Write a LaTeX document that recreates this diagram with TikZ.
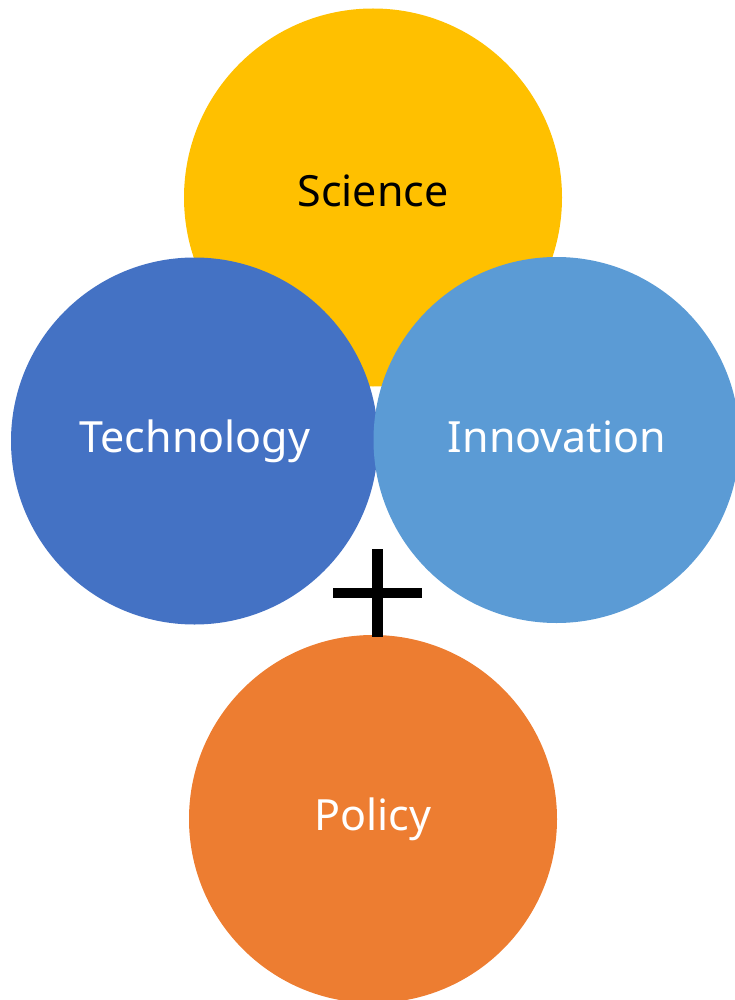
\documentclass[tikz,border=0pt]{standalone}
\usepackage{fontspec}
\setmainfont{Noto Sans}
\definecolor{sciY}{HTML}{FFC000}
\definecolor{techB}{HTML}{4472C4}
\definecolor{innoB}{HTML}{5B9BD5}
\definecolor{polO}{HTML}{ED7D31}
\tikzset{
  disc/.style={circle, inner sep=0pt, draw=none},
  lbl/.style={anchor=base, inner sep=0pt, font=\fontsize{43}{50}\selectfont},
  plusbar/.style={line width=10.5pt, draw=black}
}
\begin{document}
\begin{tikzpicture}[x=1pt,y=-1pt]
\useasboundingbox (0,0) rectangle (734,1000);
\node[disc, fill=sciY, minimum size=378pt] (sci) at (373,197.5) {};
\node[disc, fill=techB, minimum size=367pt] (tech) at (194.5,441) {};
\node[disc, fill=innoB, minimum size=366pt] (inno) at (556.5,440) {};
\node[disc, fill=polO, minimum size=368pt] (pol) at (373,819) {};
\node[lbl, text=black] (scit) at (373,207) {Science};
\node[lbl, text=white] (techt) at (195,452) {Technology};
\node[lbl, text=white] (innot) at (557,452) {Innovation};
\node[lbl, text=white] (polt) at (373,830) {Policy};
\coordinate (pl) at (333,593);
\coordinate (pr) at (422,593);
\coordinate (ptop) at (377.5,549);
\coordinate (pbot) at (377.5,637);
\draw[plusbar] (pl) -- (pr);
\draw[plusbar] (ptop) -- (pbot);
\end{tikzpicture}
\end{document}
